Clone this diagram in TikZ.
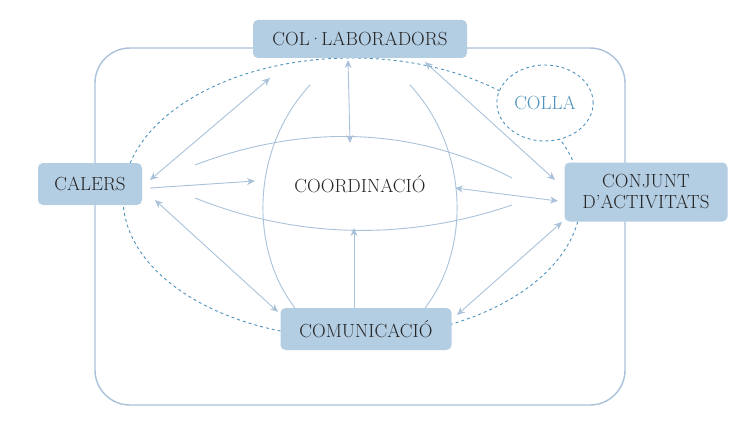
\documentclass[tikz,border=0pt]{standalone}
\usetikzlibrary{arrows.meta,shapes.geometric}
\definecolor{boxfill}{HTML}{B3CDE3}
\definecolor{ln}{HTML}{A9C2DA}
\definecolor{dsh}{HTML}{4F93BC}
\tikzset{
  lbl/.style={font=\fontsize{19}{21}\selectfont, text=black!85},
  boxnode/.style={lbl, fill=boxfill, rounded corners=5pt, inner sep=0pt},
  conn/.style={draw=ln, line width=0.9pt},
  arr/.style={conn, -{Stealth[length=8pt,width=7pt]}},
  darr/.style={conn, {Stealth[length=8pt,width=7pt]}-{Stealth[length=8pt,width=7pt]}},
  dash2/.style={draw=dsh, dashed, line width=0.9pt}
}
\begin{document}
\begin{tikzpicture}[x=1pt,y=-1pt]
\useasboundingbox (0,0) rectangle (740,444);
\draw[ln, line width=1.4pt, rounded corners=35pt] (95,48) rectangle (625,405);
\draw[dash2] (352,198) ellipse [x radius=229, y radius=140];
\node[dash2, ellipse, minimum width=94pt, minimum height=76pt, draw, fill=white, lbl, text=dsh] (colla) at (545,103) {COLLA};
\node[boxnode, minimum width=214pt, minimum height=38pt] (col) at (360,39) {COL\kern-1pt·\kern-1pt LABORADORS};
\node[boxnode, minimum width=104pt, minimum height=42pt] (cal) at (90,184) {CALERS};
\node[boxnode, minimum width=163pt, minimum height=59pt, align=center] (conj) at (646,192) {CONJUNT\\D'ACTIVITATS};
\node[boxnode, minimum width=171pt, minimum height=42pt] (com) at (366,329) {COMUNICACIÓ};
\node[lbl] (coord) at (360,184) {COORDINACIÓ};
\coordinate (c1) at (255,181);
\draw[darr] (150,180) -- (270,78);
\draw[arr] (150,188) -- (c1);
\draw[darr] (155,200) -- (278,312);
\draw[darr] (348,60) -- (350,143);
\draw[darr] (425,62) -- (555,180);
\draw[darr] (455,188) -- (558,201);
\draw[arr] (354,308) -- (354,228);
\draw[darr] (457,315) -- (562,222);
\draw[conn] (195,165) .. controls (300,125) and (410,125) .. (512,178);
\draw[conn] (195,198) .. controls (300,240) and (410,240) .. (512,205);
\draw[conn] (310,85) .. controls (250,150) and (250,250) .. (295,308);
\draw[conn] (410,85) .. controls (470,150) and (470,250) .. (425,308);
\end{tikzpicture}
\end{document}
